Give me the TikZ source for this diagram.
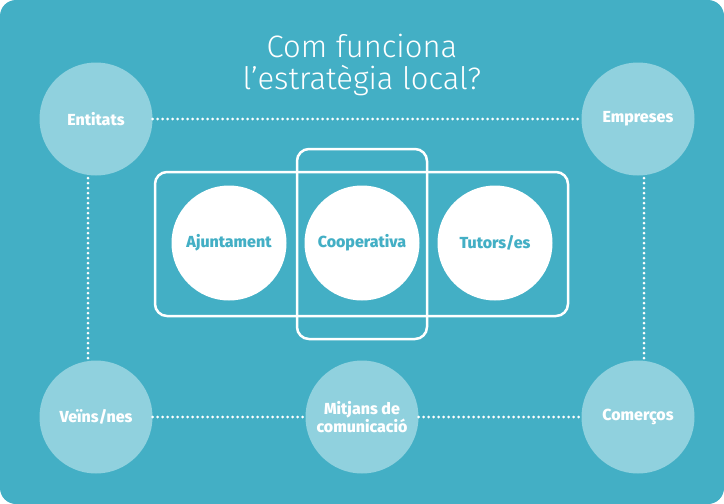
\documentclass[tikz,border=0pt]{standalone}
\usepackage{fontspec}
\setmainfont{Fira Sans}
\newfontfamily\titlefont{Fira Sans Light}
\newfontfamily\etiqfont{Fira Sans ExtraBold}
\definecolor{fons}{HTML}{43AFC5}
\definecolor{clar}{HTML}{90D1DE}
\begin{document}
\begin{tikzpicture}[x=1pt, y=-1pt,
  ext/.style={circle, fill=clar, minimum size=113pt, inner sep=0pt, text=white, font=\etiqfont\fontsize{16}{18}\selectfont, align=center},
  int/.style={circle, fill=white, minimum size=115pt, inner sep=0pt, text=fons, font=\etiqfont\fontsize{16}{18}\selectfont},
  caixa/.style={draw=white, line width=2.5pt, rounded corners=12pt},
  punts/.style={white, line width=3pt, line cap=round, dash pattern=on 0pt off 5pt}]
\useasboundingbox (0,0) rectangle (724,504);
\fill[white] (0,0) rectangle (724,504);
\fill[fons, rounded corners=16pt] (0,0) rectangle (724,504);
\node[text=white, font=\titlefont\fontsize{31}{32}\selectfont, align=center] (titol) at (362,65){Com funciona\\l’estratègia local?};
\node[ext] (ent) at (96,119){Entitats};
\node[ext] (emp) at (638,119){Empreses};
\node[ext] (vei) at (96,417){Veïns/nes};
\node[ext] (mit) at (362,417){Mitjans de\\comunicació};
\node[ext] (com) at (638,417){Comerços};
\coordinate (e1) at (88,178);
\coordinate (e2) at (88,358);
\coordinate (m1) at (644,178);
\coordinate (m2) at (644,358);
\draw[punts] (ent) -- (emp);
\draw[punts] (vei) -- (mit);
\draw[punts] (mit) -- (com);
\draw[punts] (e1) -- (e2);
\draw[punts] (m1) -- (m2);
\draw[caixa] (155,172) rectangle (568,316);
\draw[caixa] (297,149) rectangle (427,339);
\node[int] (aju) at (229,243){Ajuntament};
\node[int] (coo) at (362,243){Cooperativa};
\node[int] (tut) at (495,243){Tutors/es};
\end{tikzpicture}
\end{document}
